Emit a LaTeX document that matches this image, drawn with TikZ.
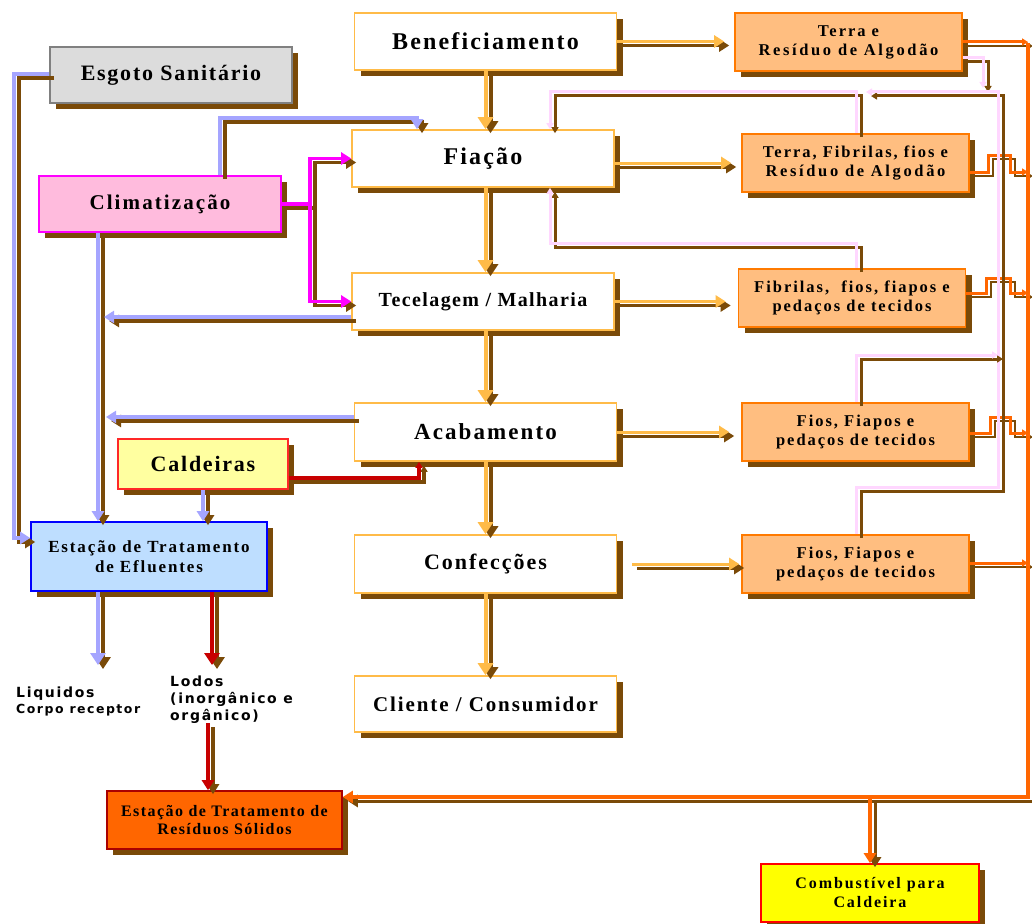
\documentclass[tikz,border=0pt]{standalone}
\usepackage{fontspec}
\setmainfont{Liberation Serif}
\newfontfamily\dejasans{DejaVu Sans}
\usetikzlibrary{arrows.meta,shadows}
\definecolor{shb}{RGB}{122,74,8}
\definecolor{lor}{RGB}{255,187,72}
\definecolor{ror}{RGB}{255,102,0}
\definecolor{rfill}{RGB}{255,190,128}
\definecolor{rbord}{RGB}{255,122,0}
\definecolor{pblue}{RGB}{165,165,255}
\definecolor{mag}{RGB}{255,0,255}
\definecolor{pnk}{RGB}{255,215,255}
\definecolor{dred}{RGB}{200,0,0}
\definecolor{gfill}{RGB}{220,220,220}
\definecolor{gbord}{RGB}{128,128,128}
\definecolor{cfill}{RGB}{255,187,221}
\definecolor{yfill}{RGB}{255,255,160}
\definecolor{cbord}{RGB}{255,40,40}
\definecolor{bfill}{RGB}{190,222,255}
\definecolor{sfill}{RGB}{255,102,0}
\definecolor{sbord}{RGB}{170,0,0}
\definecolor{kfill}{RGB}{255,255,0}
\newcommand\bxf[2]{\fontsize{#1}{#1}\selectfont\bfseries\addfontfeature{LetterSpace=#2}}
\newcommand\labf[1]{\dejasans\bfseries\fontsize{#1}{#1}\selectfont\addfontfeature{LetterSpace=12}}
\tikzset{
  sh/.style={preaction={draw=shb, line width=#1, transform canvas={shift={(5pt,-4pt)}}}},
  bx/.style={rectangle, line width=1.6pt, align=center, inner sep=2pt,
    drop shadow={shadow xshift=6pt, shadow yshift=-6pt, fill=shb, opacity=1}},
  cbox/.style={bx, draw=lor, fill=white, minimum width=262pt, minimum height=57pt},
  rbox/.style={bx, draw=rbord, fill=rfill, minimum width=227pt, minimum height=58pt,
    font={\bxf{16.5}{12}\baselineskip=19pt}},
  bigtip/.style={-{Triangle[width=15pt,length=12pt]}},
  midtip/.style={-{Triangle[width=12pt,length=10pt]}},
  smtip/.style={-{Triangle[width=7pt,length=6pt]}},
  flow/.style={sh=4pt, draw=lor, line width=4pt, bigtip},
  hflow/.style={sh=3pt, draw=lor, line width=3pt, midtip},
  rline/.style={sh=2.5pt, draw=ror, line width=3pt, smtip},
  busline/.style={sh=3pt, draw=ror, line width=4pt, midtip},
  pline/.style={sh=3pt, draw=pnk, line width=3pt, smtip},
  bline/.style={sh=3.5pt, draw=pblue, line width=4pt, midtip},
  mline/.style={sh=3.5pt, draw=mag, line width=3.5pt, midtip},
  rdline/.style={sh=4pt, draw=dred, line width=4pt, midtip},
  lab/.style={anchor=base west, inner sep=0pt},
}
\begin{document}
\begin{tikzpicture}[x=1pt,y=-1pt]
\useasboundingbox[fill=white] (0,0) rectangle (1032,923);
% ---- centre column
\node[cbox, font=\bxf{24}{9}] (ben) at (485.5,41.5) {Beneficiamento};
\node[cbox, font=\bxf{24}{9}] (fia) at (483,158.5) {Fiação};
\node[cbox, font=\bxf{20}{7}] (tec) at (483,301.5) {Tecelagem / Malharia};
\node[cbox, font=\bxf{23}{9}, minimum height=58pt] (aca) at (485.5,432) {Acabamento};
\node[cbox, font=\bxf{22}{9}, minimum height=58pt] (con) at (485.5,564) {Confecções};
\node[cbox, font=\bxf{21}{9}, minimum height=56pt] (cli) at (485.5,704) {Cliente / Consumidor};
% ---- left column
\node[bx, draw=gbord, fill=gfill, minimum width=242pt, minimum height=56pt, font=\bxf{22}{8}] (esg) at (171,75) {Esgoto Sanitário};
\node[bx, draw=mag, fill=cfill, minimum width=242pt, minimum height=56pt, font=\bxf{21}{10}] (clim) at (160,204) {Climatização};
\node[bx, draw=cbord, fill=yfill, minimum width=170pt, minimum height=50pt, font=\bxf{22}{8}] (cald) at (203,464) {Caldeiras};
\node[bx, draw=blue, fill=bfill, minimum width=236pt, minimum height=69pt, font={\bxf{17}{11}\baselineskip=20pt}] (ete) at (149,556.5) {Estação de Tratamento\\de Efluentes};
\node[bx, draw=sbord, fill=sfill, minimum width=235pt, minimum height=58pt, font={\bxf{16}{9}\baselineskip=18pt}] (etrs) at (224.5,820) {Estação de Tratamento de\\Resíduos Sólidos};
\node[bx, draw=red, fill=kfill, minimum width=218pt, minimum height=58pt, font={\bxf{16}{12}\baselineskip=19pt}] (comb) at (870,893) {Combustível para\\Caldeira};
% ---- right column
\node[rbox] (r1) at (848.5,42) {Terra e\\\addfontfeature{LetterSpace=16}Resíduo de Algodão};
\node[rbox] (r2) at (855.5,163) {Terra, Fibrilas, fios e\\\addfontfeature{LetterSpace=16}Resíduo de Algodão};
\node[rbox] (r3) at (852,298) {Fibrilas,\ \ fios, fiapos e\\pedaços de tecidos};
\node[rbox] (r4) at (855.5,432) {Fios, Fiapos e\\pedaços de tecidos};
\node[rbox] (r5) at (855.5,564) {Fios, Fiapos e\\pedaços de tecidos};
% ---- free labels
\node[lab, font=\labf{14}] (liq) at (16,697) {Liquidos};
\node[lab, font=\labf{12.5}] (corpo) at (16,713) {Corpo receptor};
\node[lab, font=\labf{14}] (lod1) at (170,686) {Lodos};
\node[lab, font=\labf{14}] (lod2) at (170,703) {(inorgânico e};
\node[lab, font=\labf{14}] (lod3) at (170,720) {orgânico)};
\coordinate (liqa) at (98,665);
\coordinate (loda) at (212,665);
\coordinate (bt) at (1028,43);
\coordinate (bb) at (1028,797);
\coordinate (cm) at (310,204);
% ---- main flow
\draw[flow] (ben.south) -- (ben.south |- fia.north);
\draw[flow] (fia.south -| ben.south) -- (tec.north -| ben.south);
\draw[flow] (tec.south -| ben.south) -- (aca.north);
\draw[flow] (aca.south) -- (con.north);
\draw[flow] (con.south) -- (cli.north);
% ---- to residue boxes
\draw[hflow, shorten >=10pt] (ben.east) -- (ben.east -| r1.west);
\draw[hflow, shorten >=10pt] (fia.east |- r2.west) -- (r2.west);
\draw[hflow, shorten >=12pt] (tec.east) -- (tec.east -| r3.west);
\draw[hflow, shorten >=12pt] (aca.east) -- (aca.east -| r4.west);
\draw[hflow, shorten <=15pt, shorten >=2pt] (con.east) -- (con.east -| r5.west);
% ---- residue to bus
\draw[rline] (r1.east) -- (r1.east -| bt);
\draw[rline] (r2.east |- 0,172) -- (988,172) -- (988,155) -- (1010,155) -- (1010,172) -- (bt |- 0,172);
\draw[rline] (r3.east |- 0,293) -- (986,293) -- (986,278) -- (1010,278) -- (1010,293) -- (bt |- 0,293);
\draw[rline] (r4.east |- 0,433) -- (990,433) -- (990,417) -- (1010,417) -- (1010,433) -- (bt |- 0,433);
\draw[rline] (r5.east |- 0,563) -- (bt |- 0,563);
\draw[busline] (bt) -- (bb) -- (etrs.east |- bb);
\draw[busline] (comb.north |- bb) -- (comb.north);
% ---- recycling loops
\draw[pline] (r1.east |- 0,58) -| (983,88);
\draw[pline] (r2.north -| 856,0) |- (550,92) -- (fia.north -| 550,0);
\draw[pline] (r5.north -| 856,0) |- (998,487) -- (998,92) -- (866,92);
\draw[pline] (r4.north -| 856,0) |- (998,355);
\draw[pline] (r3.north -| 856,0) |- (550,243) -- (fia.south -| 550,0);
% ---- left side
\draw[bline] (esg.west |- 0,74) -- (14,74) |- (ete.west |- 0,538);
\draw[bline] (clim.north -| 220,0) |- (417,118) -- (fia.north -| 417,0);
\draw[mline] (clim.east) -- (cm) |- (fia.west);
\draw[mline] (cm) |- (tec.west);
\draw[bline] (clim.south -| 98,0) -- (ete.north -| 98,0);
\draw[bline] (tec.west |- 0,317) -- (104,317);
\draw[bline] (aca.west |- 0,417) -- (106,417);
\draw[rdline, smtip] (cald.east |- 0,478) -| (aca.south -| 419,0);
\draw[bline] (cald.south -| 203,0) -- (ete.north -| 203,0);
\draw[bline, bigtip] (ete.south -| 98,0) -- (liqa);
\draw[rdline, bigtip] (ete.south -| 212,0) -- (loda);
\draw[rdline] (lod3.south -| 208,0) -- (etrs.north -| 208,0);
\end{tikzpicture}
\end{document}
